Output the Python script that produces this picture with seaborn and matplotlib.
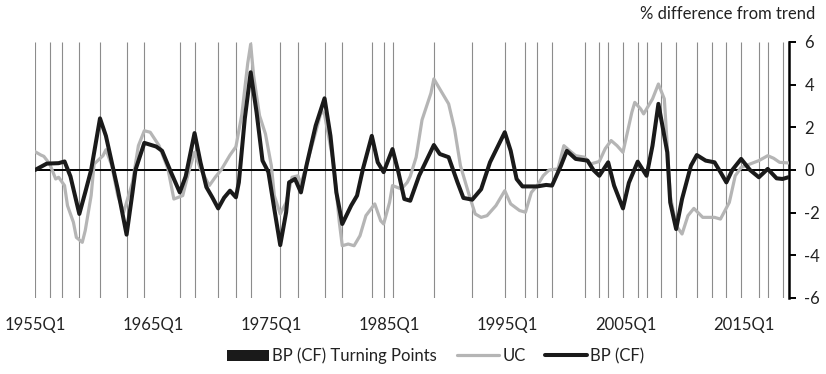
import numpy as np
import pandas as pd
import seaborn as sns
import matplotlib.pyplot as plt
from matplotlib.patches import Patch
from matplotlib.lines import Line2D

# quarters counted from 1955Q1 (0 = 1955Q1)
tick_quarters = [0, 40, 80, 120, 160, 200, 240]
tick_labels = ["1955Q1", "1965Q1", "1975Q1", "1985Q1", "1995Q1", "2005Q1", "2015Q1"]

# BP (CF) turning points (quarter index)
turning_points = [0, 5, 9, 15, 22, 31, 37, 49, 54, 62, 68, 73, 83, 89, 98, 104, 114, 118,
                  121, 135, 148, 159, 166, 170, 175, 186, 191, 194, 199, 204, 207, 212, 217,
                  224, 229, 234, 239, 245, 248, 253]

# BP (CF) cycle
bp_q = [0, 4, 8, 10, 12, 15, 17, 19, 22, 24, 28, 31, 33, 34, 37, 41, 43, 46, 49, 51, 54, 56,
        58, 60, 62, 64, 66, 68, 69, 71, 73, 75, 77, 79, 81, 83, 85, 86, 88, 90, 92, 95, 98,
        100, 102, 104, 107, 109, 111, 114, 116, 118, 121, 123, 125, 127, 130, 135, 137, 140,
        143, 145, 148, 151, 154, 159, 161, 163, 165, 170, 173, 175, 178, 180, 183, 185, 187,
        189, 191, 194, 196, 199, 201, 204, 207, 209, 211, 214, 215, 217, 219, 222, 224, 227,
        230, 232, 234, 236, 239, 242, 245, 248, 251, 253, 255]
bp_val = [0.0, 0.3, 0.32, 0.4, -0.3, -2.06, -1.05, 0.0, 2.42, 1.6, -0.9, -3.03, -1.05, 0.0,
          1.27, 1.1, 0.9, -0.1, -1.05, -0.3, 1.73, 0.36, -0.8, -1.28, -1.8, -1.3, -0.97, -1.28,
          -0.58, 2.4, 4.58, 2.7, 0.44, -0.1, -1.83, -3.52, -1.98, -0.58, -0.42, -1.05, 0.28,
          2.08, 3.36, 1.6, -1.05, -2.53, -1.67, -1.2, 0.05, 1.6, 0.36, -0.1, 0.98, -0.1, -1.36,
          -1.44, -0.27, 1.17, 0.75, 0.6, -0.58, -1.31, -1.39, -0.9, 0.36, 1.77, 0.9, -0.42,
          -0.77, -0.77, -0.7, -0.73, 0.2, 0.9, 0.52, 0.48, 0.44, 0.0, -0.27, 0.36, -0.73, -1.8,
          -0.6, 0.39, -0.27, 1.14, 3.1, 0.83, -1.52, -2.77, -1.36, 0.2, 0.7, 0.44, 0.36, -0.1,
          -0.58, 0.0, 0.52, 0.0, -0.34, 0.05, -0.39, -0.42, -0.34]

# UC cycle
uc_q = [0, 2, 3, 5, 7, 8, 10, 11, 13, 14, 16, 17, 19, 20, 23, 24, 26, 28, 30, 33, 35, 37, 39,
        42, 45, 47, 50, 52, 54, 56, 59, 61, 63, 66, 68, 70, 72, 73, 74, 76, 78, 80, 81, 83, 85,
        87, 89, 90, 92, 95, 97, 98, 101, 103, 104, 106, 108, 110, 112, 115, 117, 118, 120, 121,
        124, 126, 127, 129, 131, 134, 135, 137, 140, 142, 144, 147, 149, 151, 153, 156, 159,
        161, 164, 166, 168, 170, 172, 174, 177, 179, 181, 183, 186, 188, 191, 193, 195, 197,
        199, 200, 202, 203, 205, 206, 209, 211, 213, 214, 215, 217, 219, 221, 223, 226, 230,
        232, 235, 237, 239, 242, 245, 248, 250, 252, 255]
uc_val = [0.86, 0.7, 0.64, 0.28, -0.42, -0.34, -0.73, -1.67, -2.45, -3.16, -3.39, -2.84, -1.2,
          0.28, 0.67, 0.95, 0.2, -1.2, -1.98, -0.58, 1.14, 1.84, 1.77, 1.14, 0.05, -1.36, -1.2,
          -0.1, 0.83, 0.05, -0.73, -0.34, 0.0, 0.7, 1.09, 2.6, 5.0, 5.9, 4.42, 2.55, 1.69, 0.2,
          -1.2, -2.06, -1.52, -0.34, -0.27, -0.66, 0.28, 1.77, 2.8, 2.6, 0.36, -2.45, -3.55,
          -3.47, -3.55, -3.08, -2.14, -1.59, -2.38, -2.53, -1.52, -0.73, -0.89, -0.58, -0.3,
          0.6, 2.35, 3.6, 4.27, 3.8, 3.1, 1.92, 0.2, -1.2, -2.06, -2.22, -2.14, -1.67, -0.97,
          -1.59, -1.9, -1.98, -1.05, -0.73, -0.27, 0.0, 0.05, 1.14, 0.9, 0.67, 0.6, 0.28, 0.4,
          1.0, 1.38, 1.14, 0.83, 1.45, 2.7, 3.17, 2.86, 2.63, 3.33, 4.03, 3.33, 1.14, -1.2,
          -2.6, -3.0, -2.14, -1.8, -2.22, -2.22, -2.3, -1.52, -0.27, 0.12, 0.28, 0.44, 0.67,
          0.55, 0.36, 0.33]

bp = pd.DataFrame({"q": bp_q, "val": bp_val})
uc = pd.DataFrame({"q": uc_q, "val": uc_val})

sns.set_theme(style="white")
plt.rcParams['font.family'] = ['Lato', 'DejaVu Sans']

fig = plt.figure(figsize=(8.26, 3.74), dpi=100)
ax = fig.add_axes([35 / 826, 1 - 298 / 374, 754 / 826, 256 / 374])

# turning points as thin vertical bars
ax.vlines(turning_points, -6, 6, color="#8c8c8c", linewidth=0.8, zorder=1)
ax.axhline(0, color="black", linewidth=1.4, zorder=2)

sns.lineplot(data=uc, x="q", y="val", color="#b5b5b5", linewidth=2.3, ax=ax, zorder=3,
             solid_joinstyle="round", solid_capstyle="round")
sns.lineplot(data=bp, x="q", y="val", color="#1a1a1a", linewidth=2.9, ax=ax, zorder=4,
             solid_joinstyle="round", solid_capstyle="round")

ax.set_xlim(0, 255.2)
ax.set_ylim(-6, 6)
ax.set_xticks(tick_quarters)
ax.set_xticklabels(tick_labels, fontsize=12, color="#222222")
ax.tick_params(axis="x", length=0, pad=14)
ax.yaxis.tick_right()
ax.set_yticks([-6, -4, -2, 0, 2, 4, 6])
ax.set_yticklabels(["-6", "-4", "-2", "0", "2", "4", "6"], fontsize=12, color="#222222")
ax.tick_params(axis="y", direction="out", length=5, width=1.4, color="black", pad=6)
ax.set_xlabel("")
ax.set_ylabel("")
for side in ["top", "left", "bottom"]:
    ax.spines[side].set_visible(False)
ax.spines["right"].set_color("black")
ax.spines["right"].set_linewidth(1.8)

fig.text(815 / 826, 1 - 14 / 374, "% difference from trend", ha="right", va="center",
         fontsize=12, color="#222222")

handles = [Patch(facecolor="#1a1a1a", edgecolor="none"),
           Line2D([], [], color="#b5b5b5", linewidth=2.3),
           Line2D([], [], color="#1a1a1a", linewidth=2.9)]
labels = ["BP (CF) Turning Points", "UC", "BP (CF)"]
fig.legend(handles, labels, loc="center", bbox_to_anchor=(436 / 826, 1 - 356 / 374), ncol=3,
           frameon=False, fontsize=12, handlelength=2.5, handletextpad=0.2, columnspacing=1.2,
           labelcolor="#222222")

fig.savefig("out.png", dpi=100)
